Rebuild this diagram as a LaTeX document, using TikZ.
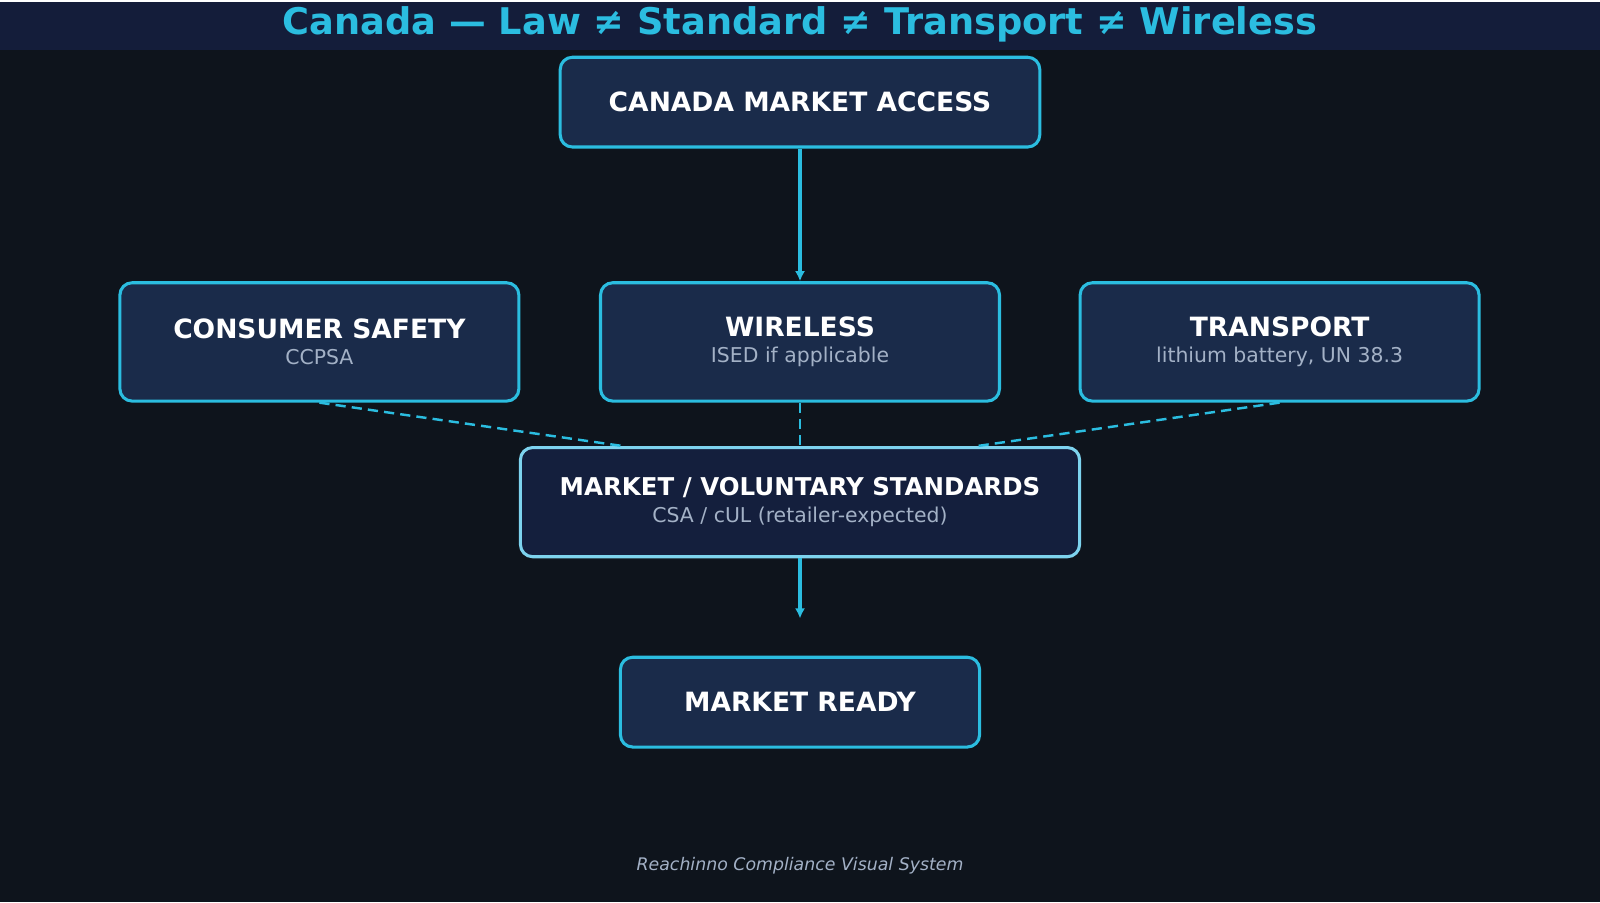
\documentclass[tikz,border=0pt]{standalone}
\usepackage{fontspec}
\setmainfont{DejaVu Sans}
\usetikzlibrary{arrows.meta,positioning}
\definecolor{bgdark}{HTML}{0E141C}
\definecolor{barbg}{HTML}{141D3A}
\definecolor{boxfill}{HTML}{1A2B4A}
\definecolor{midfill}{HTML}{141F3D}
\definecolor{cyanline}{HTML}{2BBDE0}
\definecolor{lightline}{HTML}{7DD3EE}
\definecolor{subgray}{HTML}{A3B1C6}
\newcommand{\subtxt}[1]{{\fontsize{10}{12}\selectfont\mdseries\color{subgray}#1}}

\begin{document}
\begin{tikzpicture}[
  x = 0.5pt, y = -0.5pt,
  > = {Latex[length=5pt,width=5pt]},
  box/.style = {rectangle, draw=cyanline, line width=1.5pt, fill=boxfill,
                rounded corners=6pt, align=center, text=white, inner sep=0pt,
                font=\fontsize{13}{15}\selectfont\bfseries},
  flow/.style = {->, draw=cyanline, line width=1.5pt},
  link/.style = {draw=cyanline, line width=1.2pt, dash pattern=on 5pt off 3pt}
]
% ───────── canvas ─────────
\fill[bgdark] (0,0) rectangle (1568,882);
\fill[barbg] (0,0) rectangle (1568,47);
\node[text=cyanline, font=\fontsize{18}{20}\selectfont\bfseries] (title) at (784,22)
  {Canada — Law ≠ Standard ≠ Transport ≠ Wireless};

% ───────── top ─────────
\node[box, minimum width=235pt, minimum height=44pt] (access) at (784,98)
  {CANADA MARKET ACCESS};

% ───────── 2nd row ─────────
\node[box, minimum width=195.5pt, minimum height=58pt] (wireless) at (784,333)
  {WIRELESS\\[-2pt]\subtxt{ISED if applicable}};
\node[box, minimum width=195.5pt, minimum height=58pt] (safety) at (313,333)
  {CONSUMER SAFETY\\[-2pt]\subtxt{CCPSA}};
\node[box, minimum width=195.5pt, minimum height=58pt] (transport) at (1254,333)
  {TRANSPORT\\[-2pt]\subtxt{lithium battery, UN 38.3}};

% ───────── 3rd row ─────────
\node[box, draw=lightline, fill=midfill, minimum width=274pt, minimum height=53.5pt,
      font=\fontsize{12}{14}\selectfont\bfseries] (standards) at (784,490)
  {MARKET / VOLUNTARY STANDARDS\\[-1pt]\subtxt{CSA / cUL (retailer-expected)}};

% ───────── bottom ─────────
\node[box, minimum width=176pt, minimum height=44pt] (ready) at (784,686)
  {MARKET READY};
\coordinate (readytip) at (784,604);

\node[text=subgray, font=\fontsize{8.5}{10}\selectfont\itshape] (footer) at (784,846)
  {Reachinno Compliance Visual System};

% ───────── arrows ──────────
\draw[flow] (access) -- (wireless);
\draw[flow] (standards) -- (readytip);

\draw[link] (safety.south) -- (standards.north west -| 610,0);
\draw[link] (wireless) -- (standards);
\draw[link] (transport.south) -- (standards.north east -| 958,0);
\end{tikzpicture}
\end{document}
